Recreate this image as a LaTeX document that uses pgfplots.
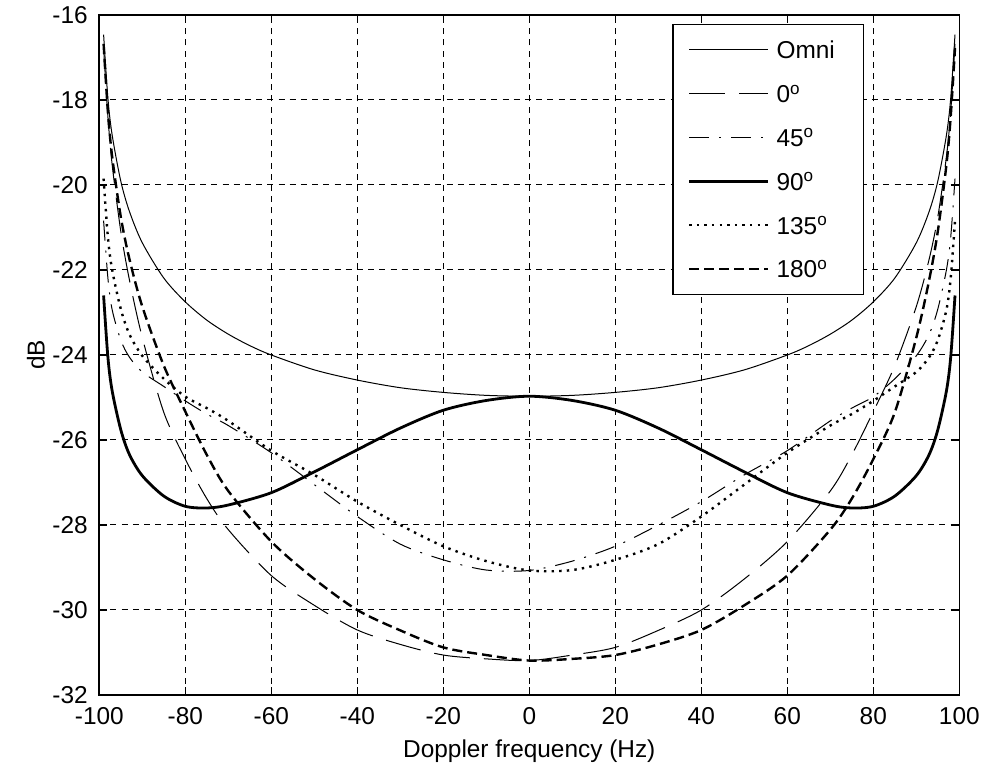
\documentclass[border=0pt]{standalone}
\usepackage{fontspec}
\setmainfont{Liberation Sans}
\usepackage{pgfplots}
\pgfplotsset{compat=1.18}

\begin{document}
\fontsize{12.2}{14.6}\selectfont
\begin{tikzpicture}
\begin{axis}[
  scale only axis, width=430pt, height=340pt,
  xmin=-100, xmax=100, ymin=-32, ymax=-16,
  xtick={-100,-80,...,100}, ytick={-32,-30,...,-16},
  tick align=inside, major tick length=4pt,
  every tick/.style={black, line width=0.6pt},
  axis line style={line width=0.8pt},
  grid=major,
  major grid style={black, line width=0.5pt, dash pattern=on 3pt off 2.6pt},
  /pgf/number format/assume math mode=true,
  xticklabel style={anchor=north, inner sep=0pt, yshift=-6pt},
  yticklabel style={anchor=east, inner sep=0pt, xshift=-5.6pt},
  xlabel={Doppler frequency (Hz)}, ylabel={dB},
  xlabel style={at={(axis description cs:0.5,-0.0926)}, anchor=base},
  ylabel style={at={(axis description cs:-0.0736,0.5)}, anchor=center},
  legend style={at={(0.889,0.987)}, anchor=north east, draw=black, line width=0.6pt,
    fill=white, inner xsep=7.35pt, inner ysep=7.25pt, row sep=10.9pt, column sep=3.5pt,
    nodes={inner sep=0pt, text height=10pt, text depth=1pt, text width=36pt, align=left}},
  legend cell align=left,
  legend image code/.code={\draw[#1] (0pt,0pt) -- (39.5pt,0pt);},
]
% Omni
\addplot[black, line width=0.5pt, smooth] coordinates {
(-99,-16.46) (-98,-17.96) (-97,-18.83) (-95,-19.91) (-93,-20.62) (-90,-21.36)
(-85,-22.19) (-80,-22.75) (-75,-23.18) (-70,-23.51) (-65,-23.78) (-60,-24.00)
(-50,-24.35) (-40,-24.59) (-30,-24.77) (-20,-24.88) (-10,-24.95) (0,-24.97)
(10,-24.95) (20,-24.88) (30,-24.77) (40,-24.59) (50,-24.35) (60,-24.00)
(65,-23.78) (70,-23.51) (75,-23.18) (80,-22.75) (85,-22.19) (90,-21.36)
(93,-20.62) (95,-19.91) (97,-18.83) (98,-17.96) (99,-16.46)};
\addlegendentry{Omni}
% 0 deg
\addplot[black, line width=0.5pt, smooth, dash pattern=on 18pt off 7pt] coordinates {
(-99,-16.78) (-98,-18.39) (-97,-19.53) (-95,-21.09) (-93,-22.23) (-90,-23.59)
(-85,-25.35) (-80,-26.45) (-75,-27.38) (-70,-28.11) (-60,-29.19) (-50,-29.89)
(-40,-30.47) (-30,-30.81) (-20,-31.06) (-10,-31.15) (0,-31.19) (10,-31.06)
(20,-30.88) (30,-30.48) (40,-30.00) (50,-29.27) (60,-28.39) (70,-27.20)
(75,-26.35) (80,-25.33) (85,-24.25) (90,-22.86) (93,-21.74) (95,-20.75)
(97,-19.34) (98,-18.28) (99,-16.68)};
\addlegendentry{0\textsuperscript{o}}
% 45 deg
\addplot[black, line width=0.5pt, smooth, dash pattern=on 10pt off 5pt on 1pt off 5pt] coordinates {
(-99,-20.84) (-98,-22.19) (-97,-22.94) (-95,-23.65) (-93,-24.05) (-90,-24.40)
(-85,-24.74) (-80,-25.08) (-75,-25.39) (-70,-25.66) (-60,-26.30) (-50,-27.05)
(-40,-27.80) (-30,-28.45) (-20,-28.82) (-10,-29.06) (0,-29.07) (10,-28.85)
(20,-28.50) (30,-28.00) (40,-27.45) (50,-26.82) (60,-26.25) (70,-25.55)
(75,-25.25) (80,-24.98) (85,-24.56) (90,-24.02) (93,-23.51) (95,-22.92)
(97,-22.00) (98,-21.23) (99,-19.85)};
\addlegendentry{45\textsuperscript{o}}
% 90 deg
\addplot[black, line width=1.4pt, smooth] coordinates {
(-99,-22.60) (-98,-24.05) (-97,-24.85) (-95,-25.76) (-93,-26.34) (-90,-26.84)
(-85,-27.32) (-80,-27.56) (-75,-27.60) (-70,-27.53) (-60,-27.24) (-50,-26.75)
(-40,-26.23) (-30,-25.72) (-20,-25.30) (-10,-25.07) (0,-24.97) (10,-25.07)
(20,-25.30) (30,-25.72) (40,-26.23) (50,-26.75) (60,-27.24) (70,-27.53)
(75,-27.60) (80,-27.56) (85,-27.32) (90,-26.84) (93,-26.34) (95,-25.76)
(97,-24.85) (98,-24.05) (99,-22.60)};
\addlegendentry{90\textsuperscript{o}}
% 135 deg
\addplot[black, line width=1.2pt, smooth, dash pattern=on 1.2pt off 2.6pt] coordinates {
(-99,-19.85) (-98,-21.23) (-97,-22.00) (-95,-22.92) (-93,-23.51) (-90,-24.02)
(-85,-24.56) (-80,-24.98) (-75,-25.25) (-70,-25.55) (-60,-26.25) (-50,-26.82)
(-40,-27.45) (-30,-28.00) (-20,-28.50) (-10,-28.85) (0,-29.07) (10,-29.06)
(20,-28.82) (30,-28.45) (40,-27.80) (50,-27.05) (60,-26.30) (70,-25.66)
(75,-25.39) (80,-25.08) (85,-24.74) (90,-24.40) (93,-24.05) (95,-23.65)
(97,-22.94) (98,-22.19) (99,-20.84)};
\addlegendentry{135\textsuperscript{o}}
% 180 deg
\addplot[black, line width=1.2pt, smooth, dash pattern=on 5pt off 2.5pt] coordinates {
(-99,-16.68) (-98,-18.28) (-97,-19.34) (-95,-20.75) (-93,-21.74) (-90,-22.86)
(-85,-24.25) (-80,-25.33) (-75,-26.35) (-70,-27.20) (-60,-28.39) (-50,-29.27)
(-40,-30.00) (-30,-30.48) (-20,-30.88) (-10,-31.06) (0,-31.19) (10,-31.15)
(20,-31.06) (30,-30.81) (40,-30.47) (50,-29.89) (60,-29.19) (70,-28.11)
(75,-27.38) (80,-26.45) (85,-25.35) (90,-23.59) (93,-22.23) (95,-21.09)
(97,-19.53) (98,-18.39) (99,-16.78)};
\addlegendentry{180\textsuperscript{o}}
\end{axis}
\path ([shift={(-49.65pt,-37pt)}]current axis.south west) rectangle ([shift={(12.35pt,7.5pt)}]current axis.north east);
\end{tikzpicture}
\end{document}
